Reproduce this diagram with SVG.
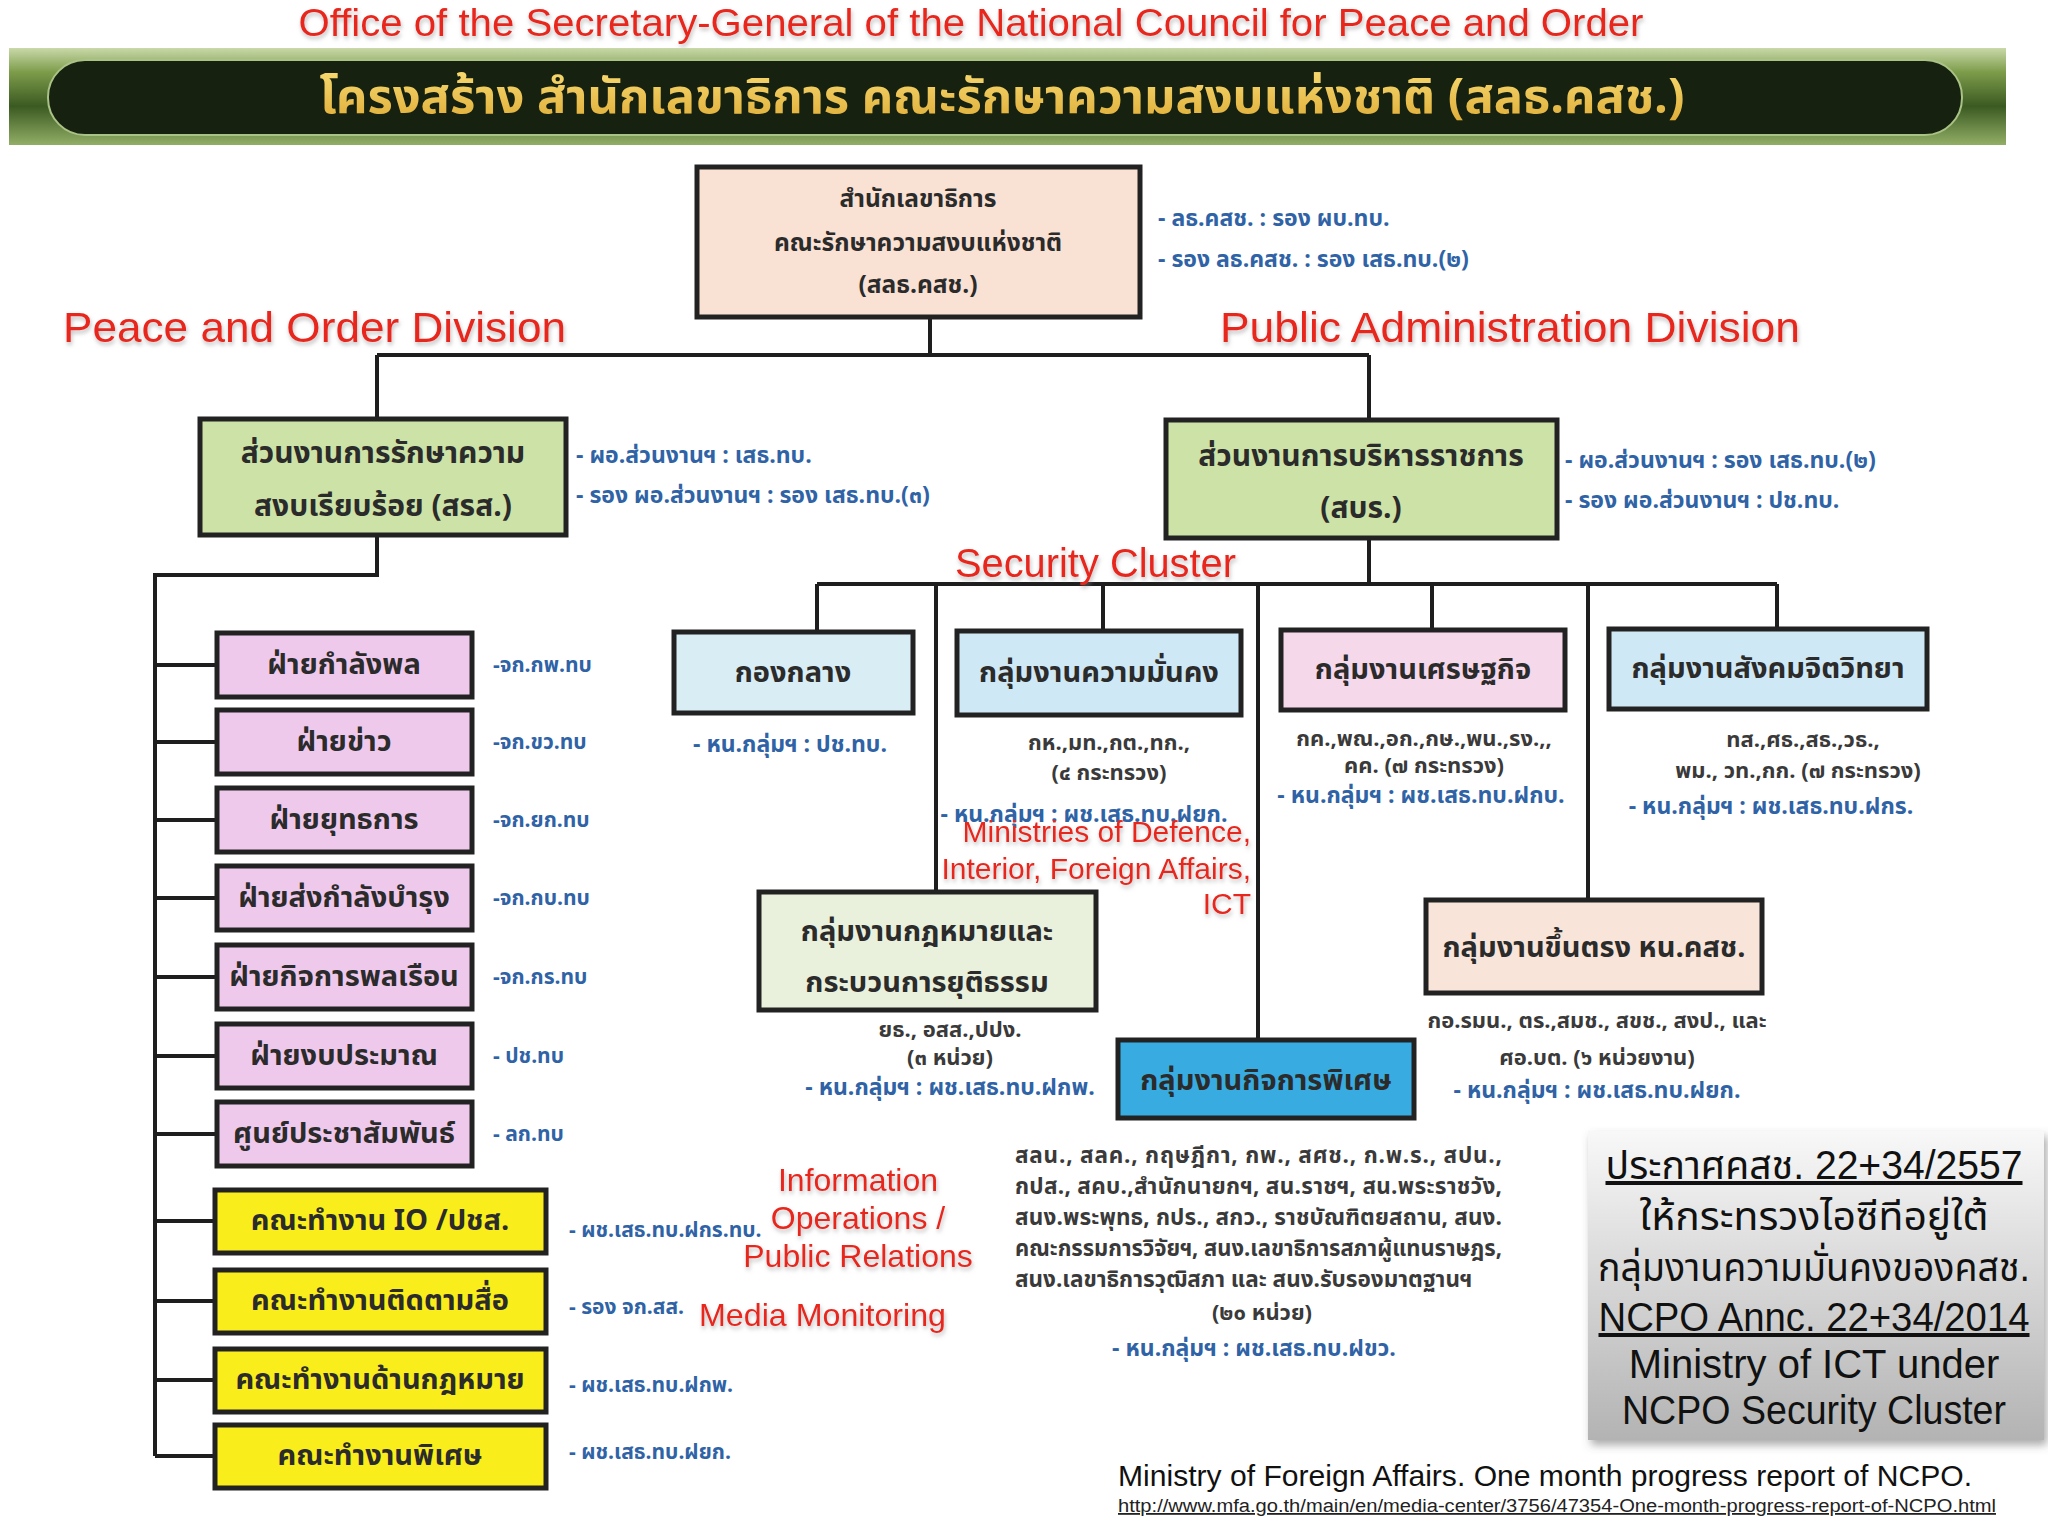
<svg xmlns="http://www.w3.org/2000/svg" width="2048" height="1536" viewBox="0 0 2048 1536">
<defs>
<linearGradient id="barG" x1="0" y1="0" x2="0" y2="1">
<stop offset="0" stop-color="#c9d9a9"/>
<stop offset="0.25" stop-color="#7d9c4a"/>
<stop offset="0.6" stop-color="#3b5a22"/>
<stop offset="1" stop-color="#92ae66"/>
</linearGradient>
<linearGradient id="goldG" x1="0" y1="0" x2="0" y2="1">
<stop offset="0" stop-color="#fbe07a"/>
<stop offset="1" stop-color="#d9a32a"/>
</linearGradient>
<linearGradient id="grayG" x1="0" y1="0" x2="0" y2="1">
<stop offset="0" stop-color="#f8f8f8"/>
<stop offset="1" stop-color="#b3b3b3"/>
</linearGradient>
<filter id="glow" x="-5%" y="-30%" width="110%" height="160%">
<feDropShadow dx="1" dy="3" stdDeviation="2" flood-color="#888" flood-opacity="0.55"/>
</filter>
<filter id="shadow" x="-5%" y="-5%" width="112%" height="112%">
<feDropShadow dx="3" dy="5" stdDeviation="4" flood-color="#555" flood-opacity="0.5"/>
</filter>
</defs>
<style>
.box{stroke:#222;stroke-width:5}
.th{font-family:"Noto Sans Thai","Noto Sans Thai Looped","Loma","Garuda","Noto Sans",sans-serif;font-weight:bold;fill:#2b2b2b;text-anchor:middle;dominant-baseline:central}
.blue{font-family:"Noto Sans Thai","Noto Sans Thai Looped","Loma","Garuda","Noto Sans",sans-serif;font-weight:bold;fill:#2f63a6;font-size:23px;dominant-baseline:central}
.pn{font-size:21px}
.mid{text-anchor:middle}
.gr{font-family:"Noto Sans Thai","Noto Sans Thai Looped","Loma","Garuda","Noto Sans",sans-serif;font-weight:bold;fill:#3a3a3a;font-size:22px;text-anchor:middle;dominant-baseline:central}
.blk{font-size:22.5px;text-anchor:start}
.red{font-family:"Liberation Sans",Arial,sans-serif;fill:#e8261c;filter:url(#glow)}
.en{font-family:"Liberation Sans",Arial,"Noto Sans Thai","Loma",sans-serif;fill:#111;text-anchor:middle}
.conn{stroke:#1e1e1e;stroke-width:4;fill:none}
</style>
<rect width="2048" height="1536" fill="#ffffff"/>

<g id="header">
<text class="red" x="971" y="36" font-size="38" text-anchor="middle" textLength="1345" lengthAdjust="spacingAndGlyphs">Office of the Secretary-General of the National Council for Peace and Order</text>
<rect x="9" y="48" width="1997" height="97" fill="url(#barG)"/>
<rect x="48" y="60" width="1914" height="75" rx="37" fill="#16210f" stroke="#a9c286" stroke-width="2"/>
<text x="1002" y="98" font-family="'Noto Sans Thai','Loma','Garuda','Noto Sans',sans-serif" font-weight="bold" font-size="48" fill="url(#goldG)" text-anchor="middle" dominant-baseline="central" textLength="1365" lengthAdjust="spacingAndGlyphs">โครงสร้าง สำนักเลขาธิการ คณะรักษาความสงบแห่งชาติ (สลธ.คสช.)</text>
</g>

<g id="connectors">
<path class="conn" d="M930 317V355M377 355H1369M377 355V419M1369 355V420"/>
<path class="conn" d="M377 535V575H155V1456"/>
<path class="conn" d="M155 665H217M155 742H217M155 820H217M155 898H217M155 977H217M155 1056H217M155 1134H217M155 1221H215M155 1301H215M155 1380H215M155 1456H215"/>
<path class="conn" d="M1369 538V584M817 584H1777M817 584V632M936 584V892M1103 584V631M1258 584V1040M1432 584V630M1588 584V900M1777 584V629"/>
</g>

<g id="secretariat">
<rect class="box" x="697" y="167" width="443" height="150" fill="#f9e1d3"/>
<text class="th" x="918" y="199" font-size="24.5">สำนักเลขาธิการ</text>
<text class="th" x="918" y="243" font-size="24.5">คณะรักษาความสงบแห่งชาติ</text>
<text class="th" x="918" y="285" font-size="24.5">(สลธ.คสช.)</text>
<text class="blue" x="1158" y="219">-  ลธ.คสช. : รอง ผบ.ทบ.</text>
<text class="blue" x="1158" y="260">- รอง ลธ.คสช. : รอง เสธ.ทบ.(๒)</text>
</g>

<text class="red" x="63" y="342" font-size="42" textLength="503" lengthAdjust="spacingAndGlyphs">Peace and Order Division</text>
<text class="red" x="1220" y="342" font-size="42" textLength="580" lengthAdjust="spacingAndGlyphs">Public Administration Division</text>

<g id="srs">
<rect class="box" x="200" y="419" width="366" height="116" fill="#cde2a6"/>
<text class="th" x="383" y="454" font-size="30">ส่วนงานการรักษาความ</text>
<text class="th" x="383" y="507" font-size="30">สงบเรียบร้อย (สรส.)</text>
<text class="blue" x="576" y="456">- ผอ.ส่วนงานฯ :  เสธ.ทบ.</text>
<text class="blue" x="576" y="496">- รอง ผอ.ส่วนงานฯ : รอง เสธ.ทบ.(๓)</text>
</g>

<g id="sbr">
<rect class="box" x="1166" y="420" width="391" height="118" fill="#cde2a6"/>
<text class="th" x="1361" y="457" font-size="30">ส่วนงานการบริหารราชการ</text>
<text class="th" x="1361" y="509" font-size="30">(สบร.)</text>
<text class="blue" x="1565" y="461">- ผอ.ส่วนงานฯ : รอง เสธ.ทบ.(๒)</text>
<text class="blue" x="1565" y="501">- รอง ผอ.ส่วนงานฯ : ปช.ทบ.</text>
</g>

<g id="pink1"><rect class="box" x="217" y="633" width="255" height="64" fill="#efc9ec"/><text class="th" x="344" y="665" font-size="29">ฝ่ายกำลังพล</text><text class="blue pn" x="493" y="665">-จก.กพ.ทบ</text></g>
<g id="pink2"><rect class="box" x="217" y="710" width="255" height="64" fill="#efc9ec"/><text class="th" x="344" y="742" font-size="29">ฝ่ายข่าว</text><text class="blue pn" x="493" y="742">-จก.ขว.ทบ</text></g>
<g id="pink3"><rect class="box" x="217" y="788" width="255" height="64" fill="#efc9ec"/><text class="th" x="344" y="820" font-size="29">ฝ่ายยุทธการ</text><text class="blue pn" x="493" y="820">-จก.ยก.ทบ</text></g>
<g id="pink4"><rect class="box" x="217" y="866" width="255" height="64" fill="#efc9ec"/><text class="th" x="344" y="898" font-size="29">ฝ่ายส่งกำลังบำรุง</text><text class="blue pn" x="493" y="898">-จก.กบ.ทบ</text></g>
<g id="pink5"><rect class="box" x="217" y="945" width="255" height="64" fill="#efc9ec"/><text class="th" x="344" y="977" font-size="29">ฝ่ายกิจการพลเรือน</text><text class="blue pn" x="493" y="977">-จก.กร.ทบ</text></g>
<g id="pink6"><rect class="box" x="217" y="1024" width="255" height="64" fill="#efc9ec"/><text class="th" x="344" y="1056" font-size="29">ฝ่ายงบประมาณ</text><text class="blue pn" x="493" y="1056">- ปช.ทบ</text></g>
<g id="pink7"><rect class="box" x="217" y="1102" width="255" height="64" fill="#efc9ec"/><text class="th" x="344" y="1134" font-size="29">ศูนย์ประชาสัมพันธ์</text><text class="blue pn" x="493" y="1134">- ลก.ทบ</text></g>

<g id="yellow1"><rect class="box" x="215" y="1190" width="331" height="63" fill="#f9ee1c"/><text class="th" x="380" y="1221" font-size="29">คณะทำงาน IO /ปชส.</text><text class="blue pn" x="569" y="1230">- ผช.เสธ.ทบ.ฝกร.ทบ.</text></g>
<g id="yellow2"><rect class="box" x="215" y="1270" width="331" height="63" fill="#f9ee1c"/><text class="th" x="380" y="1301" font-size="29">คณะทำงานติดตามสื่อ</text><text class="blue pn" x="569" y="1307">- รอง จก.สส.</text></g>
<g id="yellow3"><rect class="box" x="215" y="1349" width="331" height="63" fill="#f9ee1c"/><text class="th" x="380" y="1380" font-size="29">คณะทำงานด้านกฎหมาย</text><text class="blue pn" x="569" y="1385">- ผช.เสธ.ทบ.ฝกพ.</text></g>
<g id="yellow4"><rect class="box" x="215" y="1425" width="331" height="63" fill="#f9ee1c"/><text class="th" x="380" y="1456" font-size="29">คณะทำงานพิเศษ</text><text class="blue pn" x="569" y="1452">- ผช.เสธ.ทบ.ฝยก.</text></g>

<text class="red" x="858" y="1191" font-size="32" text-anchor="middle">Information</text>
<text class="red" x="858" y="1229" font-size="32" text-anchor="middle">Operations /</text>
<text class="red" x="858" y="1267" font-size="32" text-anchor="middle">Public Relations</text>
<text class="red" x="699" y="1326" font-size="32" textLength="247" lengthAdjust="spacingAndGlyphs">Media Monitoring</text>

<text class="red" x="955" y="577" font-size="40" textLength="281" lengthAdjust="spacingAndGlyphs">Security Cluster</text>

<g id="kongklang">
<rect class="box" x="674" y="632" width="239" height="81" fill="#d9edf5"/>
<text class="th" x="793" y="673" font-size="29">กองกลาง</text>
<text class="blue mid" x="790" y="745">- หน.กลุ่มฯ : ปช.ทบ.</text>
</g>

<g id="security">
<rect class="box" x="957" y="631" width="284" height="84" fill="#cfe8f5"/>
<text class="th" x="1099" y="673" font-size="29">กลุ่มงานความมั่นคง</text>
<text class="gr" x="1109" y="743">กห.,มท.,กต.,ทก.,</text>
<text class="gr" x="1109" y="773">(๔ กระทรวง)</text>
<text class="blue mid" x="1084" y="815">- หน.กลุ่มฯ : ผช.เสธ.ทบ.ฝยก.</text>
</g>

<g id="economy">
<rect class="box" x="1281" y="630" width="284" height="80" fill="#f6d8eb"/>
<text class="th" x="1423" y="670" font-size="29">กลุ่มงานเศรษฐกิจ</text>
<text class="gr" x="1424" y="739">กค.,พณ.,อก.,กษ.,พน.,รง.,,</text>
<text class="gr" x="1424" y="766">คค. (๗ กระทรวง)</text>
<text class="blue mid" x="1421" y="796">- หน.กลุ่มฯ : ผช.เสธ.ทบ.ฝกบ.</text>
</g>

<g id="social">
<rect class="box" x="1609" y="629" width="318" height="80" fill="#cfe8f5"/>
<text class="th" x="1768" y="669" font-size="29">กลุ่มงานสังคมจิตวิทยา</text>
<text class="gr" x="1803" y="740">ทส.,ศธ.,สธ.,วธ.,</text>
<text class="gr" x="1798" y="771">พม., วท.,กก. (๗ กระทรวง)</text>
<text class="blue mid" x="1771" y="807">- หน.กลุ่มฯ : ผช.เสธ.ทบ.ฝกร.</text>
</g>

<text class="red" x="1251" y="842" font-size="30" text-anchor="end">Ministries of Defence,</text>
<text class="red" x="1251" y="879" font-size="30" text-anchor="end">Interior, Foreign Affairs,</text>
<text class="red" x="1251" y="914" font-size="30" text-anchor="end">ICT</text>

<g id="law">
<rect class="box" x="759" y="892" width="337" height="118" fill="#e9f0dc"/>
<text class="th" x="927" y="932" font-size="29">กลุ่มงานกฎหมายและ</text>
<text class="th" x="927" y="983" font-size="29">กระบวนการยุติธรรม</text>
<text class="gr" x="950" y="1030">ยธ., อสส.,ปปง.</text>
<text class="gr" x="950" y="1058">(๓ หน่วย)</text>
<text class="blue mid" x="950" y="1088">- หน.กลุ่มฯ :  ผช.เสธ.ทบ.ฝกพ.</text>
</g>

<g id="special">
<rect class="box" x="1118" y="1040" width="296" height="78" fill="#38ace0"/>
<text class="th" x="1266" y="1081" font-size="29">กลุ่มงานกิจการพิเศษ</text>
<text class="gr blk" x="1015" y="1156" textLength="487" lengthAdjust="spacing">สลน., สลค., กฤษฎีกา, กพ., สศช., ก.พ.ร., สปน.,</text>
<text class="gr blk" x="1015" y="1187" textLength="487" lengthAdjust="spacing">กปส., สคบ.,สำนักนายกฯ, สน.ราชฯ, สน.พระราชวัง,</text>
<text class="gr blk" x="1015" y="1218" textLength="487" lengthAdjust="spacing">สนง.พระพุทธ, กปร., สกว., ราชบัณฑิตยสถาน, สนง.</text>
<text class="gr blk" x="1015" y="1249" textLength="487" lengthAdjust="spacingAndGlyphs">คณะกรรมการวิจัยฯ, สนง.เลขาธิการสภาผู้แทนราษฎร,</text>
<text class="gr blk" x="1015" y="1280">สนง.เลขาธิการวุฒิสภา และ สนง.รับรองมาตฐานฯ</text>
<text class="gr" x="1262" y="1313" font-size="23">(๒๐ หน่วย)</text>
<text class="blue mid" x="1254" y="1349">- หน.กลุ่มฯ :  ผช.เสธ.ทบ.ฝขว.</text>
</g>

<g id="direct">
<rect class="box" x="1426" y="900" width="336" height="93" fill="#f8e4d9"/>
<text class="th" x="1594" y="948" font-size="29">กลุ่มงานขึ้นตรง หน.คสช.</text>
<text class="gr" x="1597" y="1021" font-size="23">กอ.รมน., ตร.,สมช., สขช., สงป., และ</text>
<text class="gr" x="1597" y="1058" font-size="23">ศอ.บต. (๖ หน่วยงาน)</text>
<text class="blue mid" x="1597" y="1091">- หน.กลุ่มฯ :  ผช.เสธ.ทบ.ฝยก.</text>
</g>

<g id="note">
<rect x="1588" y="1131" width="456" height="309" fill="url(#grayG)" filter="url(#shadow)"/>
<text class="en" x="1814" y="1179" font-size="40" text-decoration="underline" textLength="417" lengthAdjust="spacingAndGlyphs">ประกาศคสช. 22+34/2557</text>
<text class="en" x="1814" y="1230" font-size="40" textLength="349" lengthAdjust="spacingAndGlyphs">ให้กระทรวงไอซีทีอยู่ใต้</text>
<text class="en" x="1814" y="1281" font-size="40" textLength="432" lengthAdjust="spacingAndGlyphs">กลุ่มงานความมั่นคงของคสช.</text>
<text class="en" x="1814" y="1331" font-size="40" text-decoration="underline" textLength="431" lengthAdjust="spacingAndGlyphs">NCPO Annc. 22+34/2014</text>
<text class="en" x="1814" y="1378" font-size="40">Ministry of ICT under</text>
<text class="en" x="1814" y="1424" font-size="40" textLength="384" lengthAdjust="spacingAndGlyphs">NCPO Security Cluster</text>
</g>

<g id="citation">
<text x="1118" y="1486" font-family="'Liberation Sans',Arial,sans-serif" font-size="30" fill="#111" textLength="854" lengthAdjust="spacingAndGlyphs">Ministry of Foreign Affairs. One month progress report of NCPO.</text>
<text x="1118" y="1512" font-family="'Liberation Sans',Arial,sans-serif" font-size="18" fill="#222" text-decoration="underline" textLength="878" lengthAdjust="spacingAndGlyphs">http://www.mfa.go.th/main/en/media-center/3756/47354-One-month-progress-report-of-NCPO.html</text>
</g>
</svg>
